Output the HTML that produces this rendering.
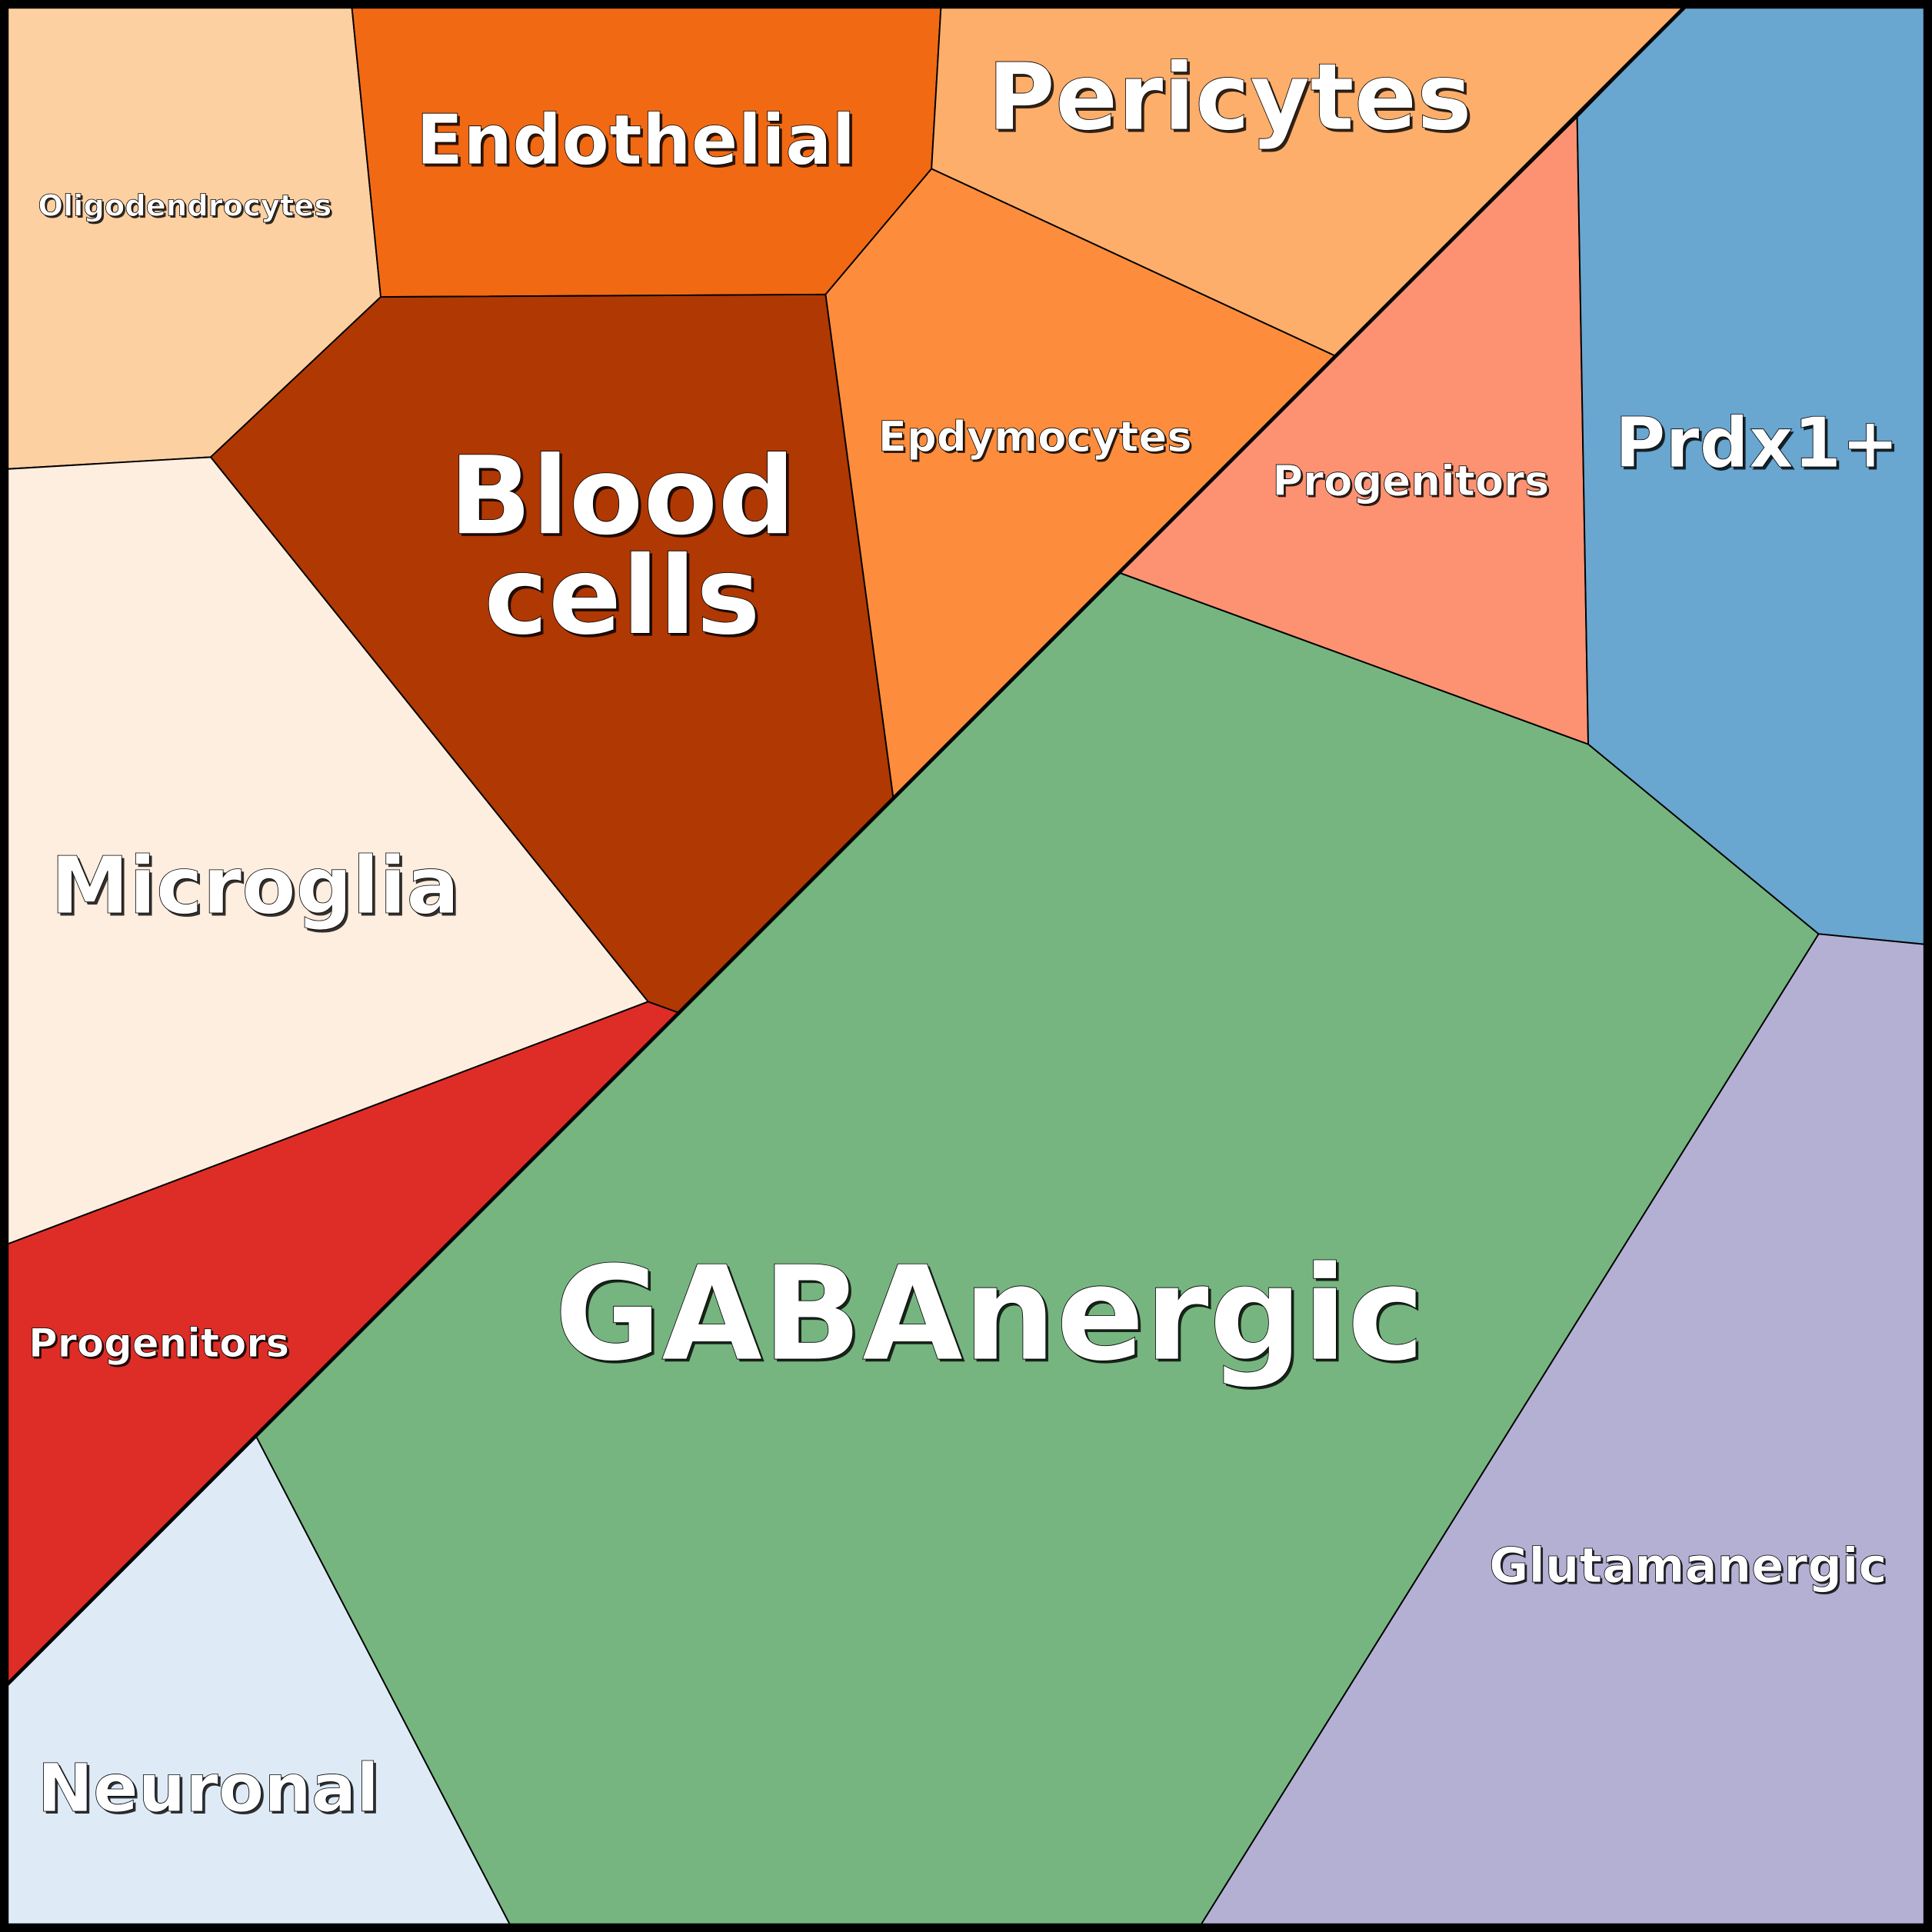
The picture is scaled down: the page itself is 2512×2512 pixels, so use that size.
<!DOCTYPE html>
<html><head><meta charset="utf-8"><style>
html,body{margin:0;padding:0;background:#fff}
svg{display:block}
text{font-family:"DejaVu Sans","Liberation Sans",sans-serif;font-weight:bold;text-anchor:middle}
.s{fill:#000;opacity:0.8}
.t{fill:#fff;stroke:#000;stroke-width:0.5}
</style></head><body>
<svg width="2512" height="2512" viewBox="0 0 1568 1568" xmlns="http://www.w3.org/2000/svg">
<g stroke="#000" stroke-width="1.2" stroke-linejoin="round">
<polygon fill="#fdd0a2" points="0,0 285,0 309,241 171,371 0,381"/>
<polygon fill="#f16913" points="285,0 764,0 756,137 670,239 309,241"/>
<polygon fill="#fdae6b" points="764,0 1373,0 1084,289 756,137"/>
<polygon fill="#fd8d3c" points="756,137 1084,289 725,648 670,239"/>
<polygon fill="#b03802" points="309,241 670,239 725,648 551,822 526,813 171,371"/>
<polygon fill="#feeedf" points="0,381 171,371 526,813 0,1012"/>
<polygon fill="#de2d26" points="0,1012 526,813 551,822 0,1373"/>
<polygon fill="#deebf7" points="0,1373 208,1166 417,1568 0,1568"/>
<polygon fill="#76b580" points="208,1166 909,465 1289,604 1476,758 971,1568 417,1568"/>
<polygon fill="#fc9272" points="909,465 1084,289 1280,95 1289,604"/>
<polygon fill="#69a6d0" points="1280,95 1373,0 1568,0 1568,767 1476,758 1289,604"/>
<polygon fill="#b4b0d4" points="1476,758 1568,767 1568,1568 971,1568"/>
</g>
<line x1="0" y1="1373" x2="1373" y2="0" stroke="#000" stroke-width="3"/>
<rect x="3.5" y="3.5" width="1561" height="1561" fill="none" stroke="#000" stroke-width="7"/>
<g>
<text class="s" x="151.5" y="176.5" font-size="24">Oligodendrocytes</text><text class="t" x="150" y="175" font-size="24">Oligodendrocytes</text>
<text class="s" x="518" y="135" font-size="56">Endothelial</text><text class="t" x="516" y="133" font-size="56">Endothelial</text>
<text class="s" x="1000" y="107" font-size="75">Pericytes</text><text class="t" x="998" y="105" font-size="75">Pericytes</text>
<text class="s" x="841.5" y="367.5" font-size="34">Epdymocytes</text><text class="t" x="840" y="366" font-size="34">Epdymocytes</text>
<text class="s" x="507" y="435" font-size="88">Blood</text><text class="t" x="505" y="433" font-size="88">Blood</text>
<text class="s" x="507" y="516" font-size="88">cells</text><text class="t" x="505" y="514" font-size="88">cells</text>
<text class="s" x="209" y="743" font-size="64">Microglia</text><text class="t" x="207" y="741" font-size="64">Microglia</text>
<text class="s" x="1146.5" y="403.5" font-size="34">Progenitors</text><text class="t" x="1145" y="402" font-size="34">Progenitors</text>
<text class="s" x="1428" y="381" font-size="56">Prdx1+</text><text class="t" x="1426" y="379" font-size="56">Prdx1+</text>
<text class="s" x="805" y="1105" font-size="106">GABAnergic</text><text class="t" x="803" y="1103" font-size="106">GABAnergic</text>
<text class="s" x="130.5" y="1102.5" font-size="32">Progenitors</text><text class="t" x="129" y="1101" font-size="32">Progenitors</text>
<text class="s" x="1371.5" y="1285.5" font-size="39">Glutamanergic</text><text class="t" x="1370" y="1284" font-size="39">Glutamanergic</text>
<text class="s" x="171" y="1472" font-size="54">Neuronal</text><text class="t" x="169" y="1470" font-size="54">Neuronal</text>
</g>
</svg>
</body></html>
